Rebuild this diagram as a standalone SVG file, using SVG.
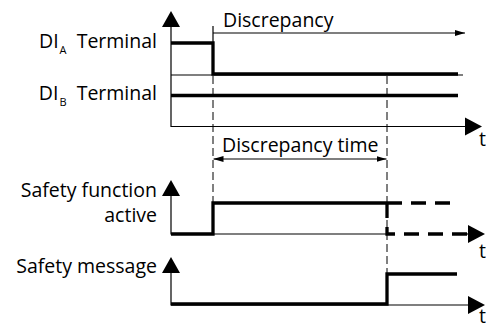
<svg xmlns="http://www.w3.org/2000/svg" width="486" height="330" viewBox="0 0 486 330">
<defs>
<style>
text{font-family:"Open Sans","Noto Sans","DejaVu Sans",sans-serif;font-size:19.5px;fill:#000}
.thin{stroke:#000;stroke-width:1.2;fill:none}
.thick{stroke:#000;stroke-width:3.3;fill:none;stroke-linejoin:miter}
.dash{stroke:#000;stroke-width:1;fill:none;stroke-dasharray:8 4}
.tdash{stroke:#000;stroke-width:3.3;fill:none;stroke-dasharray:15 9}
.head{fill:#000}
</style>
<marker id="sa" viewBox="0 0 10 6" refX="10" refY="3" markerWidth="10" markerHeight="6" markerUnits="userSpaceOnUse" orient="auto-start-reverse">
<path d="M0,0 L10,3 L0,6 Z" fill="#000"/>
</marker>
<path id="up" d="M0,0 L9,16 L-9,16 Z"/>
<path id="right" d="M0,0 L-17,-9 L-17,9 Z"/>
</defs>

<g id="labels">
<text x="157" y="47.5" text-anchor="end">DI<tspan font-size="11" dx="1" dy="6">A</tspan><tspan dx="5" dy="-6"> Terminal</tspan></text>
<text x="157" y="99.5" text-anchor="end">DI<tspan font-size="11" dx="1" dy="6">B</tspan><tspan dx="5" dy="-6"> Terminal</tspan></text>
<text x="157" y="196.5" text-anchor="end">Safety function</text>
<text x="157" y="221.5" text-anchor="end">active</text>
<text x="157" y="272.5" text-anchor="end">Safety message</text>
<text x="479" y="146">t</text>
<text x="479" y="258">t</text>
<text x="479" y="323">t</text>
</g>

<g id="axes">
<path class="thin" d="M171,27 V126.5 H466"/>
<use href="#up" x="171" y="11" class="head"/>
<use href="#right" x="482" y="126.5" class="head"/>
<path class="thin" d="M171,196 V234 H387"/>
<path class="thin" d="M466,234 H470"/>
<use href="#up" x="171" y="180" class="head"/>
<use href="#right" x="485" y="234" class="head"/>
<path class="thin" d="M171,273 V305 H470"/>
<use href="#up" x="171" y="257" class="head"/>
<use href="#right" x="485" y="305" class="head"/>
<path class="thin" d="M171,75 H463"/>
</g>

<g id="signals">
<path id="dia" class="thick" d="M171,43 H213 V74 H458"/>
<path id="dib" class="thick" d="M171,95.5 H458"/>
<path id="sfa" class="thick" d="M171,234 H213 V203 H387"/>
<path class="tdash" d="M387,203 H453"/>
<path class="tdash" d="M387,203 V234 H468"/>
<path id="sm" class="thick" d="M171,304 H387 V274 H457"/>
</g>

<g id="connectors">
<path class="thin" d="M213,26 V43"/>
<path class="dash" d="M213,76 V203"/>
<path class="dash" d="M387,76 V274"/>
<path class="thin" d="M213,33 H465" marker-end="url(#sa)"/>
<path class="thin" d="M213.5,159 H386.5" marker-start="url(#sa)" marker-end="url(#sa)"/>
<text x="223" y="27">Discrepancy</text>
<text x="222" y="152">Discrepancy time</text>
</g>
</svg>
